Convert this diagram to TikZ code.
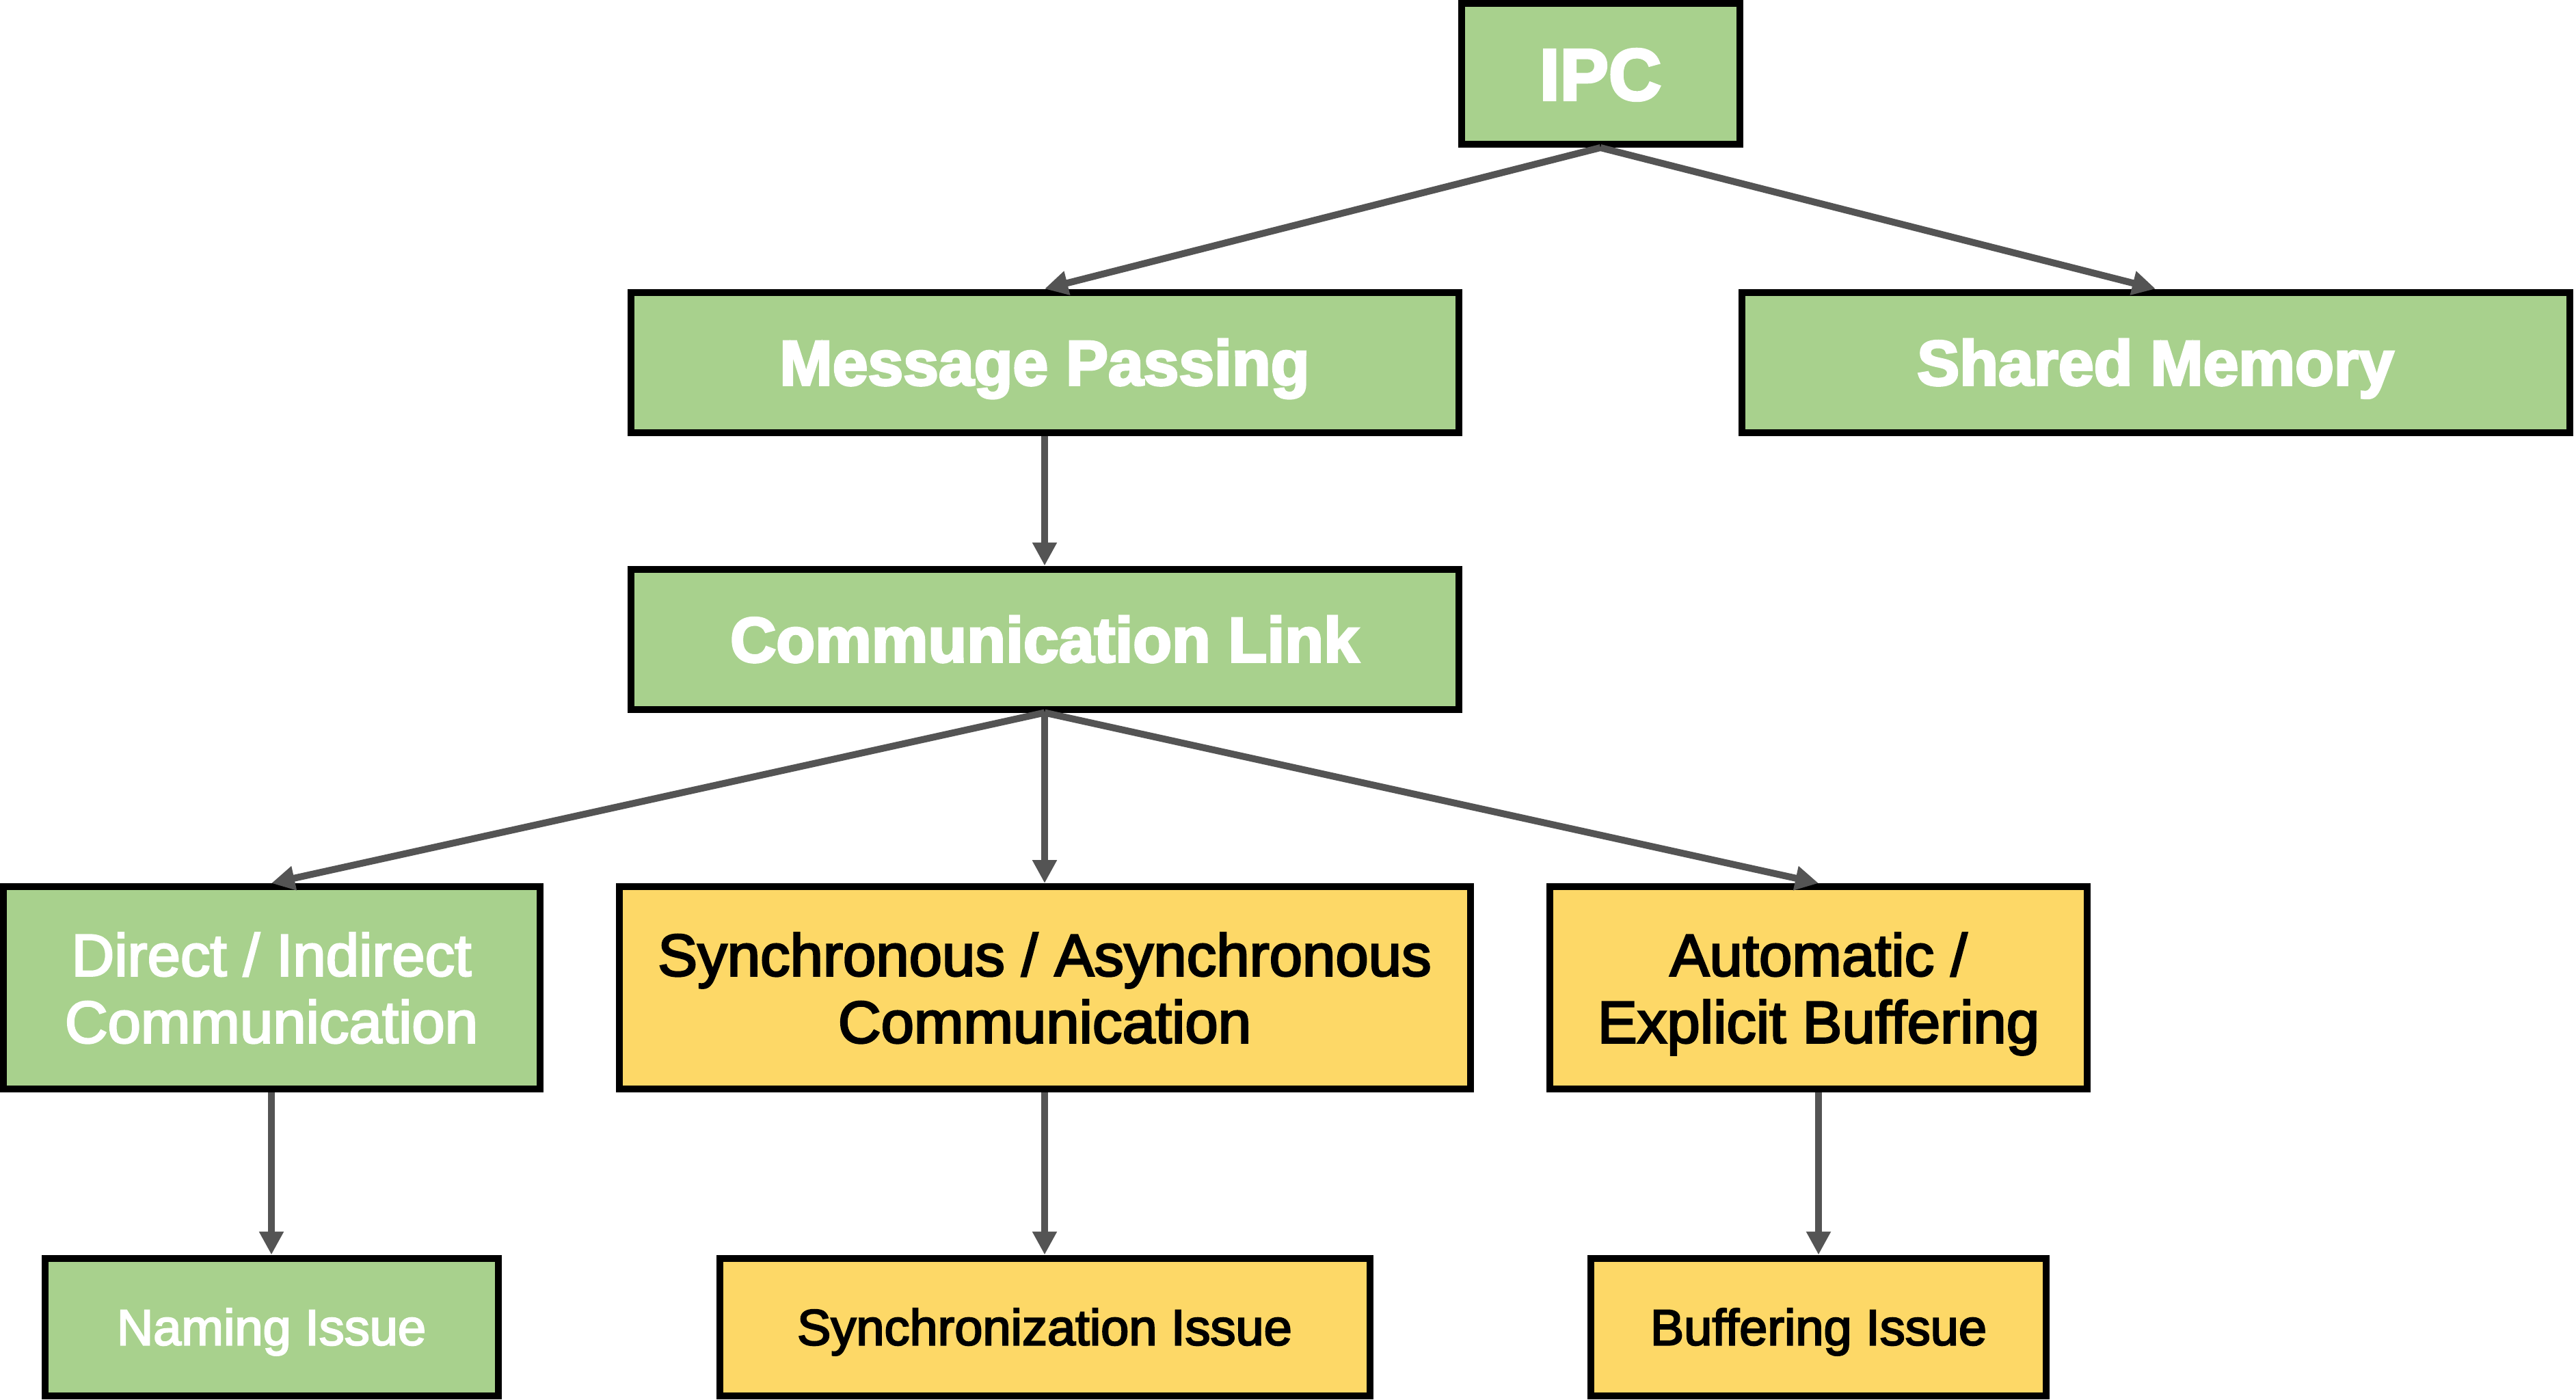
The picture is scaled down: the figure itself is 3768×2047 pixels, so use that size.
\documentclass[tikz,border=0pt]{standalone}
\usepackage{fontspec}
\setmainfont{Liberation Sans}
\newfontfamily\heavyfont{Liberation Sans}[BoldFeatures={FakeBold=3.5}]
\newfontfamily\medfont{Liberation Sans}[UprightFeatures={FakeBold=3}]
\usetikzlibrary{arrows.meta}

\definecolor{boxgreen}{HTML}{A8D18D}
\definecolor{boxyellow}{HTML}{FDD867}
\definecolor{linkgray}{HTML}{545454}

\tikzset{
  box/.style={draw=black, line width=2.5pt, inner sep=0pt, align=center},
  greenbox/.style={box, fill=boxgreen, text=white},
  yellowbox/.style={box, fill=boxyellow, text=black},
  roottext/.style={font=\heavyfont\bfseries\fontsize{26.75}{30}\selectfont,
    text height=19.15pt, text depth=0pt},
  headtext/.style={font=\heavyfont\bfseries\fontsize{23.25}{26}\selectfont,
    text height=16.65pt, text depth=0pt},
  subtext/.style={font=\medfont\fontsize{21.75}{24.5}\selectfont, text depth=0pt},
  issuetext/.style={font=\medfont\fontsize{18.5}{22}\selectfont,
    text height=13.25pt, text depth=0pt},
  link/.style={draw=linkgray, line width=2.5pt,
    -{Triangle[length=8.5pt,width=8.5pt]}}
}

\begin{document}
\begin{tikzpicture}[x=0.25pt, y=-0.25pt]
  \useasboundingbox (0,0) rectangle (3768,2047);

  % root
  \node[greenbox, roottext, minimum width={407*0.25pt}, minimum height={206*0.25pt}]
        (ipc) at (2341,108) {IPC};

  % two IPC models
  \node[greenbox, headtext, minimum width={1211*0.25pt}, minimum height={205*0.25pt}]
        (mp) at (1528,530) {Message Passing};
  \node[greenbox, headtext, minimum width={1211*0.25pt}, minimum height={205*0.25pt}]
        (sm) at (3153,530) {Shared Memory};

  % link
  \node[greenbox, headtext, minimum width={1211*0.25pt}, minimum height={205*0.25pt}]
        (cl) at (1528,935) {Communication Link};

  % link properties
  \node[greenbox, subtext, minimum width={785*0.25pt}, minimum height={296*0.25pt}]
        (di) at (397,1445) {Direct / Indirect\\Communication};
  \node[yellowbox, subtext, minimum width={1245*0.25pt}, minimum height={296*0.25pt}]
        (sa) at (1528,1445) {Synchronous / Asynchronous\\Communication};
  \node[yellowbox, subtext, minimum width={786*0.25pt}, minimum height={296*0.25pt}]
        (ae) at (2660,1445) {Automatic /\\Explicit Buffering};

  % issues
  \node[greenbox, issuetext, minimum width={663*0.25pt}, minimum height={201*0.25pt}]
        (ni) at (397,1941) {Naming Issue};
  \node[yellowbox, issuetext, minimum width={951*0.25pt}, minimum height={201*0.25pt}]
        (si) at (1528,1941) {Synchronization Issue};
  \node[yellowbox, issuetext, minimum width={666*0.25pt}, minimum height={201*0.25pt}]
        (bi) at (2660,1941) {Buffering Issue};

  % connectors
  \draw[link] (ipc.south) -- (mp.north);
  \draw[link] (ipc.south) -- (sm.north);
  \draw[link] (mp.south) -- (cl.north);
  \draw[link] (cl.south) -- (di.north);
  \draw[link] (cl.south) -- (sa.north);
  \draw[link] (cl.south) -- (ae.north);
  \draw[link] (di.south) -- (ni.north);
  \draw[link] (sa.south) -- (si.north);
  \draw[link] (ae.south) -- (bi.north);
\end{tikzpicture}
\end{document}
